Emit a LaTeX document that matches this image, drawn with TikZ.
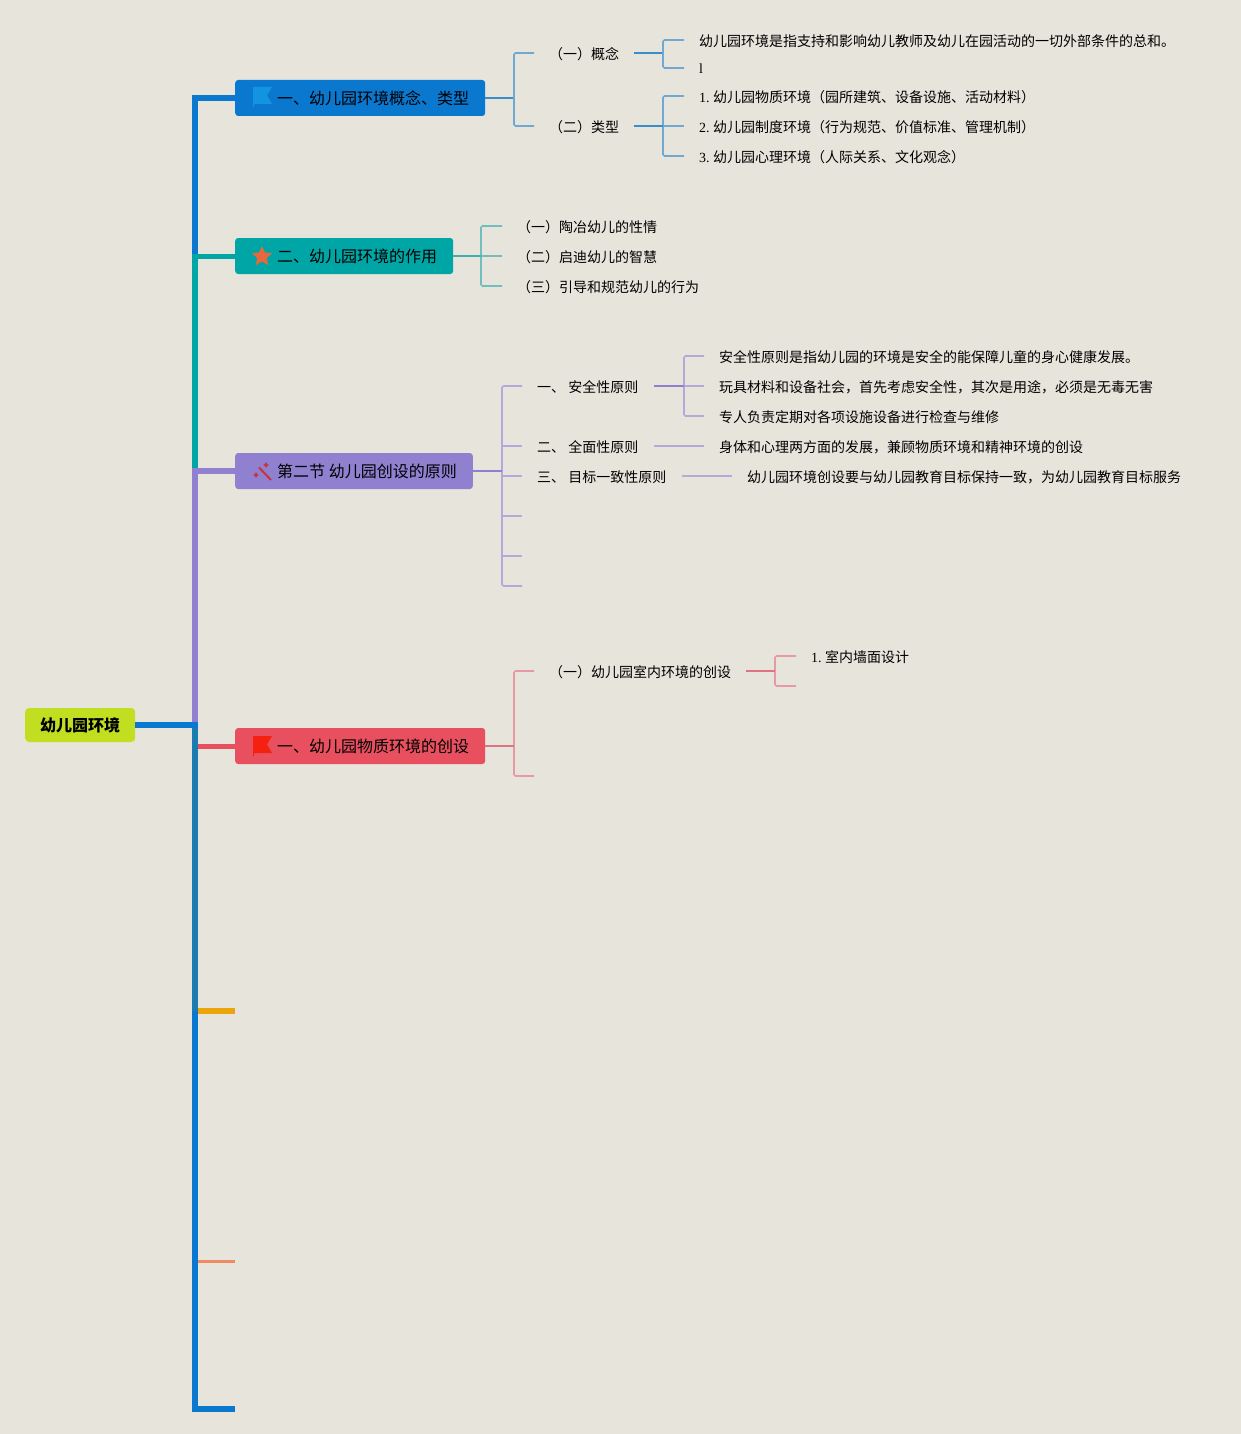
\documentclass[tikz,border=0pt]{standalone}
\usepackage{fontspec}
\setmainfont{Noto Sans CJK SC}
\newfontfamily\lat{Liberation Serif}
\newfontfamily\pjp{Noto Sans CJK JP}
\newcommand{\lpar}{{\pjp （}}
\newcommand{\rpar}{{\pjp ）}}
\usetikzlibrary{shapes.geometric}
\definecolor{bg}{HTML}{E7E4DC}
\definecolor{cblue}{HTML}{0B78D0}
\definecolor{cteal}{HTML}{00A6A6}
\definecolor{cpurple}{HTML}{9080D0}
\definecolor{cred}{HTML}{E8505F}
\definecolor{croot}{HTML}{C2DE20}
\definecolor{cmix}{HTML}{1A7CB0}
\definecolor{camber}{HTML}{EBA50A}
\definecolor{csalmon}{HTML}{F08A62}
\definecolor{cflag}{HTML}{1294E0}
\definecolor{cstar}{HTML}{E8683C}
\definecolor{cwand}{HTML}{C8323C}
\definecolor{cflagr}{HTML}{F5200F}
\definecolor{lblue}{HTML}{6FA8D3}
\definecolor{lblued}{HTML}{3A8CCB}
\definecolor{lteal}{HTML}{70BFBE}
\definecolor{ltealm}{HTML}{3DB0AF}
\definecolor{lpurple}{HTML}{B4A9DA}
\definecolor{lpurpled}{HTML}{8E80D0}
\definecolor{lred}{HTML}{E79AA3}
\definecolor{lredd}{HTML}{DE7480}
\newcommand{\tlabel}[1]{\hspace{26pt}\raisebox{-1pt}{#1}}
\tikzset{
  x=1pt,y=-1pt,
  topic/.style={rectangle,rounded corners=3pt,inner xsep=16pt,inner ysep=0pt,minimum height=36pt,
    text=black,font=\fontsize{16}{16}\selectfont,anchor=west},
  rootbox/.style={rectangle,rounded corners=4pt,fill=croot,inner xsep=15pt,inner ysep=0pt,minimum height=34pt,
    text=black,font=\fontsize{16}{16}\selectfont\bfseries,anchor=west},
  leaf/.style={anchor=base west,inner sep=0pt,text=black,font=\fontsize{14}{14}\selectfont},
  trunk/.style={line width=6pt},
  twig/.style={line width=1.7pt,rounded corners=1.5pt},
  stem/.style={line width=1.7pt}
}
\begin{document}
\begin{tikzpicture}
\useasboundingbox (0,0) rectangle (1241,1434);
\fill[bg] (0,0) rectangle (1241,1434);

% trunk junctions
\coordinate (jroot) at (195,725);
\coordinate (j1) at (195,98);
\coordinate (j2) at (195,256);
\coordinate (j3) at (195,471);
\coordinate (j4) at (198,746);
\coordinate (j5) at (195,1011);
\coordinate (j6) at (195,1261);
\coordinate (j7) at (195,1409);
\coordinate (e5) at (235,1011);
\coordinate (e6) at (235,1261);
\coordinate (e7) at (235,1409);

% topics
\node[rootbox] (root) at (25,725) {\raisebox{-2pt}{幼儿园环境}};
\node[topic,fill=cblue] (b1) at (235,98) {\tlabel{一、幼儿园环境概念、类型}};
\node[topic,fill=cteal] (b2) at (235,256) {\tlabel{二、幼儿园环境的作用}};
\node[topic,fill=cpurple] (b3) at (235,471) {\tlabel{第二节 幼儿园创设的原则}};
\node[topic,fill=cred] (b4) at (235,746) {\tlabel{一、幼儿园物质环境的创设}};

% trunk
\draw[trunk,cpurple] (jroot) -- (j3);
\draw[trunk,cteal] (j3) -- (j2);
\draw[trunk,cblue] (j2) -- (j1);
\draw[trunk,cblue] (j1) ++(-3pt,0) -- (b1.west);
\draw[line width=5pt,cteal] (j2) ++(-3pt,0) -- (b2.west);
\draw[trunk,cpurple] (j3) ++(-3pt,0) -- (b3.west);
\draw[trunk,cblue] (j5) -- (j7);
\draw[trunk,cmix] (jroot) ++(0,-3pt) -- (j5);
\draw[line width=5pt,cred] (j4) -- (b4.west);
\draw[trunk,cblue] (j7) ++(-3pt,0) -- (e7);
\draw[trunk,camber] (j5) ++(3pt,0) -- (e5);
\draw[line width=3pt,csalmon] (j6) ++(3pt,0) -- (e6);
\draw[trunk,cblue] (root.east) -- (198,725);

% icons
\fill[cflag] (253,87) -- (272,87) -- (267,95.5) -- (272,104) -- (254,104) -- (254,107) -- (253,107) -- cycle;
\node[star,star points=5,star point ratio=2.1,fill=cstar,inner sep=0pt,minimum size=21pt,anchor=center] (starmark) at (262,256.5) {};
\draw[line width=2pt,cwand] (259,467.5) -- (271,480);
\fill[cwand] (266,462) -- (267,464) -- (269,465) -- (267,466) -- (266,468) -- (265,466) -- (263,465) -- (265,464) -- cycle;
\fill[cwand] (256,472) -- (257,474) -- (259,475) -- (257,476) -- (256,478) -- (255,476) -- (253,475) -- (255,474) -- cycle;
\fill[cflagr] (253,736) -- (272,736) -- (267,744.5) -- (272,753) -- (254,753) -- (254,756) -- (253,756) -- cycle;

% Topic 1
\coordinate (k1) at (514,98);
\coordinate (k1a) at (534,53);
\coordinate (k1b) at (534,126);
\draw[stem,lblued] (b1.east) -- (k1);
\draw[twig,lblue] (k1a) -| (k1) |- (k1b);
\node[leaf] (n11) at (549,60) {\lpar 一\rpar 概念};
\node[leaf] (n12) at (549,133) {\lpar 二\rpar 类型};
\coordinate (s11) at (634,53);
\coordinate (k11) at (663,53);
\coordinate (e111) at (684,40);
\coordinate (e112) at (684,68);
\draw[stem,lblued] (s11) -- (k11);
\draw[twig,lblue] (e111) -| (k11) |- (e112);
\node[leaf] (n111) at (699,47) {幼儿园环境是指支持和影响幼儿教师及幼儿在园活动的一切外部条件的总和。};
\node[leaf] (n112) at (699,74) {\lat l};
\coordinate (s12) at (634,126);
\coordinate (k12) at (663,126);
\coordinate (e121) at (684,96);
\coordinate (e122) at (684,126);
\coordinate (e123) at (684,156);
\draw[twig,lblue] (e121) -| (k12) |- (e123);
\draw[stem,lblue] (k12) -- (e122);
\draw[stem,lblued] (s12) -- (k12);
\node[leaf] (n121) at (699,103) {{\lat 1.\kern3.5pt}幼儿园物质环境\lpar 园所建筑、设备设施、活动材料\rpar};
\node[leaf] (n122) at (699,133) {{\lat 2.\kern3.5pt}幼儿园制度环境\lpar 行为规范、价值标准、管理机制\rpar};
\node[leaf] (n123) at (699,163) {{\lat 3.\kern3.5pt}幼儿园心理环境\lpar 人际关系、文化观念\rpar};

% Topic 2
\coordinate (k2) at (481,256);
\coordinate (e21) at (502,226);
\coordinate (e22) at (502,256);
\coordinate (e23) at (502,286);
\draw[twig,lteal] (e21) -| (k2) |- (e23);
\draw[stem,lteal] (k2) -- (e22);
\draw[stem,ltealm] (b2.east) -- (k2);
\node[leaf] (n21) at (517,232) {\lpar 一\rpar 陶冶幼儿的性情};
\node[leaf] (n22) at (517,262) {\lpar 二\rpar 启迪幼儿的智慧};
\node[leaf] (n23) at (517,292) {\lpar 三\rpar 引导和规范幼儿的行为};

% Topic 3
\coordinate (k3) at (502,471);
\coordinate (e31) at (522,386);
\coordinate (e32) at (522,446);
\coordinate (e33) at (522,476);
\coordinate (e34) at (522,516);
\coordinate (e35) at (522,556);
\coordinate (e36) at (522,586);
\draw[twig,lpurple] (e31) -| (k3) |- (e36);
\draw[stem,lpurple] (502,446) -- (e32);
\draw[stem,lpurple] (502,476) -- (e33);
\draw[stem,lpurple] (502,516) -- (e34);
\draw[stem,lpurple] (502,556) -- (e35);
\draw[stem,lpurpled] (b3.east) -- (k3);
\node[leaf] (n31) at (537,392) {一、 安全性原则};
\node[leaf] (n32) at (537,452) {二、 全面性原则};
\node[leaf] (n33) at (537,482) {三、 目标一致性原则};
\coordinate (s31) at (654,386);
\coordinate (k31) at (684,386);
\coordinate (e311) at (704,356);
\coordinate (e312) at (704,386);
\coordinate (e313) at (704,416);
\draw[twig,lpurple] (e311) -| (k31) |- (e313);
\draw[stem,lpurple] (k31) -- (e312);
\draw[stem,lpurpled] (s31) -- (k31);
\node[leaf] (n311) at (719,362) {安全性原则是指幼儿园的环境是安全的能保障儿童的身心健康发展。};
\node[leaf] (n312) at (719,392) {玩具材料和设备社会，首先考虑安全性，其次是用途，必须是无毒无害};
\node[leaf] (n313) at (719,422) {专人负责定期对各项设施设备进行检查与维修};
\coordinate (s32) at (654,446);
\coordinate (e321) at (704,446);
\draw[stem,lpurple] (s32) -- (e321);
\node[leaf] (n321) at (719,452) {身体和心理两方面的发展，兼顾物质环境和精神环境的创设};
\coordinate (s33) at (682,476);
\coordinate (e331) at (732,476);
\draw[stem,lpurple] (s33) -- (e331);
\node[leaf] (n331) at (747,482) {幼儿园环境创设要与幼儿园教育目标保持一致，为幼儿园教育目标服务};

% Topic 4
\coordinate (k4) at (514,746);
\coordinate (e41) at (534,671);
\coordinate (e42) at (534,776);
\draw[twig,lred] (e41) -| (k4) |- (e42);
\draw[stem,lredd] (b4.east) -- (k4);
\node[leaf] (n41) at (549,677) {\lpar 一\rpar 幼儿园室内环境的创设};
\coordinate (s41) at (746,671);
\coordinate (k41) at (775,671);
\coordinate (e411) at (796,656);
\coordinate (e412) at (796,686);
\draw[twig,lred] (e411) -| (k41) |- (e412);
\draw[stem,lredd] (s41) -- (k41);
\node[leaf] (n411) at (811,662) {{\lat 1.\kern3.5pt}室内墙面设计};
\end{tikzpicture}
\end{document}
